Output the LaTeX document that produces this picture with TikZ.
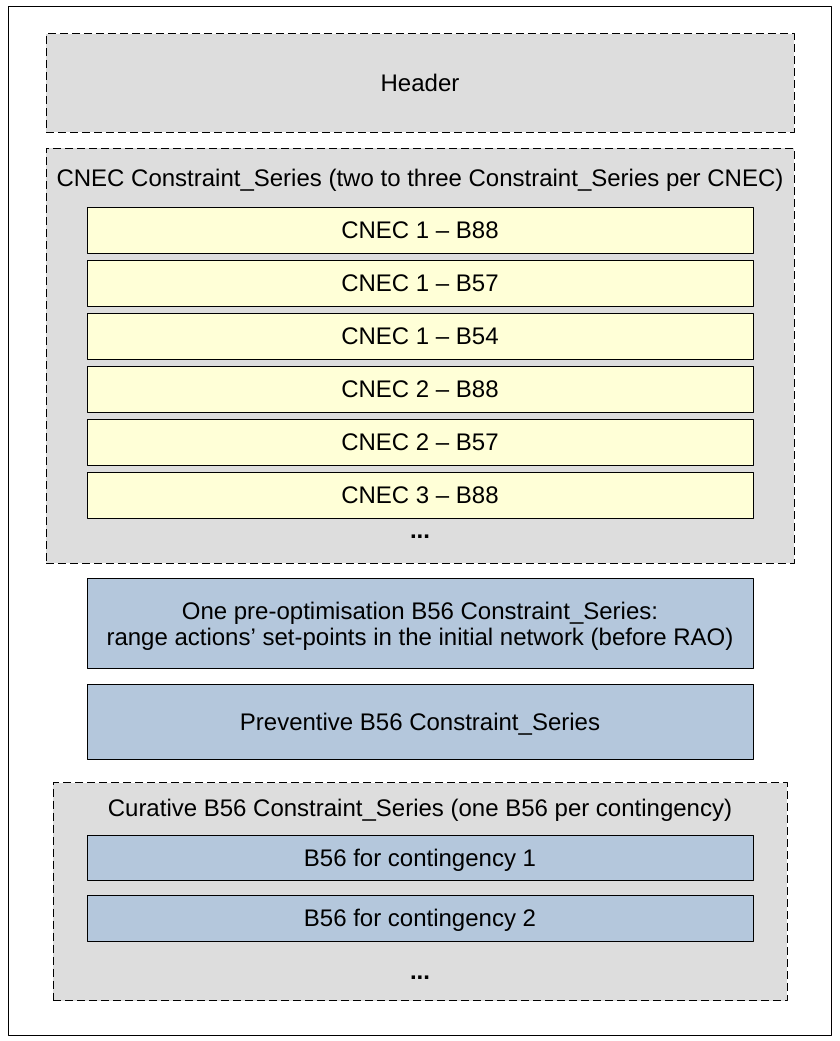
\documentclass[tikz,border=0pt]{standalone}
\usepackage{fontspec}
\setmainfont{Liberation Sans}
\definecolor{groupgray}{HTML}{DDDDDD}
\definecolor{cnecyellow}{HTML}{FFFFD7}
\definecolor{rablue}{HTML}{B4C7DC}
\tikzset{
	txt/.style={font=\fontsize{24}{29}\selectfont,text height=17.2pt,text depth=0pt},
	twolines/.style={font=\fontsize{24}{26}\selectfont,text height=43.2pt},
	dots/.style={font=\fontsize{24}{29}\selectfont\bfseries,inner sep=0pt},
	groupbox/.style={draw,fill=groupgray,dash pattern=on 8pt off 4pt,line width=1pt,minimum width=748pt,inner sep=0pt},
	cnecbox/.style={draw,fill=cnecyellow,line width=1pt,minimum width=666pt,minimum height=46pt,inner sep=0pt,txt},
	b56box/.style={draw,fill=rablue,line width=1pt,minimum width=666pt,inner sep=0pt,txt,align=center}
}
\begin{document}
\begin{tikzpicture}[x=1pt,y=-1pt,line join=round]
			\useasboundingbox (0,0) rectangle (839,1041);
			\draw[line width=1pt] (8,7) rectangle (831,1035);
			\node[groupbox,minimum height=98pt,txt] (header) at (420,83) {Header};
			\node[groupbox,minimum height=415pt] (cnecgroup) at (420,355.5) {};
			\node[txt] (cnectitle) at (420,177.5) {CNEC Constraint\_Series (two to three Constraint\_Series per CNEC)};
			\foreach \n/\c/\b in {0/1/B88,1/1/B57,2/1/B54,3/2/B88,4/2/B57,5/3/B88}
			\node[cnecbox] (cnec\n) at (420,230+53*\n) {CNEC \c\ -- \b};
			\node[dots] (cnecdots) at (420,537) {...};
			\node[b56box,twolines,minimum height=90pt] (preopt) at (420,623.5) {One pre-optimisation B56 Constraint\_Series:\\range actions’ set-points in the initial network (before RAO)};
			\node[b56box,minimum height=75pt] (prev) at (420,721.5) {Preventive B56 Constraint\_Series};
			\node[groupbox,minimum width=734pt,minimum height=218pt] (curgroup) at (420,891.5) {};
			\node[txt] (curtitle) at (420,807.5) {Curative B56 Constraint\_Series (one B56 per contingency)};
			\node[b56box,minimum height=45pt] (cur1) at (420,857.5) {B56 for contingency 1};
			\node[b56box,minimum height=46pt] (cur2) at (420,918) {B56 for contingency 2};
			\node[dots] (curdots) at (420,978) {...};
		\end{tikzpicture}
\end{document}
